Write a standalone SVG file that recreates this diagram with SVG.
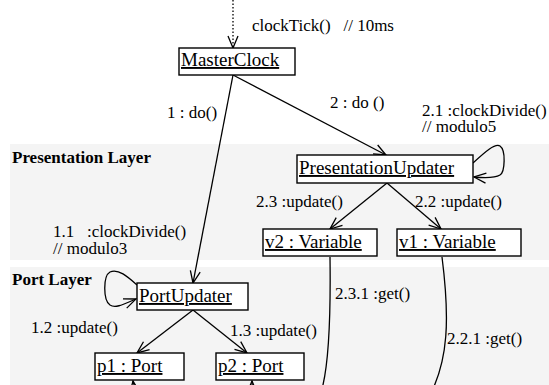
<svg xmlns="http://www.w3.org/2000/svg" width="549" height="385" viewBox="0 0 549 385" font-family="'Liberation Serif', 'DejaVu Serif', 'Times New Roman', serif">
<style>
text{font-family:"Liberation Serif","DejaVu Serif","Times New Roman",serif;fill:#000}
.lbl{font-size:17px;white-space:pre}
.layer{font-size:17px;font-weight:bold}
.name{font-size:19px;text-decoration:underline}
.box{fill:#fff;stroke:#000;stroke-width:1.4}
.band{fill:#f4f4f4}
.edge{fill:none;stroke:#000;stroke-width:1.3}
</style>
<defs>
<marker id="open" viewBox="0 0 14 12" refX="13" refY="6" markerWidth="14" markerHeight="12" markerUnits="userSpaceOnUse" orient="auto">
<path d="M1,1 L13,6 L1,11" fill="none" stroke="#000" stroke-width="1.3"/>
</marker>
</defs>
<g id="layers">
<rect class="band" x="10" y="144" width="539" height="116"/>
<rect class="band" x="10" y="267" width="539" height="118"/>
<text class="layer" x="12" y="163">Presentation Layer</text>
<text class="layer" x="12" y="285">Port Layer</text>
</g>
<g id="connectors">
<line class="edge" x1="233" y1="0" x2="233" y2="48" stroke-dasharray="1.5,2" marker-end="url(#open)"/>
<line class="edge" x1="233" y1="75" x2="193" y2="283" marker-end="url(#open)"/>
<line class="edge" x1="233" y1="75" x2="386" y2="155" marker-end="url(#open)"/>
<line class="edge" x1="387" y1="183" x2="330" y2="229" marker-end="url(#open)"/>
<line class="edge" x1="387" y1="183" x2="441" y2="229" marker-end="url(#open)"/>
<line class="edge" x1="193" y1="310" x2="137" y2="353" marker-end="url(#open)"/>
<line class="edge" x1="193" y1="310" x2="247" y2="353" marker-end="url(#open)"/>
<path class="edge" d="M473,163 C485,152 495,143 500,146 C506,150 505,172 500,175 C495,178 485,178 474,177" marker-end="url(#open)"/>
<path class="edge" d="M137,285 C128,277 118,268 110,272 C103,276 103,300 110,305 C116,309 126,303 136,299" marker-end="url(#open)"/>
<path class="edge" d="M330,257 C331,330 328,380 318,400 C300,430 252,420 252,381" marker-end="url(#open)"/>
<path class="edge" d="M442,257 C450,320 448,360 430,395 C410,430 140,430 133,381" marker-end="url(#open)"/>
<text class="lbl" x="252" y="31">clockTick()   // 10ms</text>
<text class="lbl" x="167" y="118">1 : do()</text>
<text class="lbl" x="330" y="108">2 : do ()</text>
<text class="lbl" x="422" y="116">2.1 :clockDivide()</text>
<text class="lbl" x="422" y="132">// modulo5</text>
<text class="lbl" x="256" y="207">2.3 :update()</text>
<text class="lbl" x="415" y="207">2.2 :update()</text>
<text class="lbl" x="53" y="237">1.1   :clockDivide()</text>
<text class="lbl" x="53" y="254">// modulo3</text>
<text class="lbl" x="335" y="299">2.3.1 :get()</text>
<text class="lbl" x="31" y="333">1.2 :update()</text>
<text class="lbl" x="230" y="336">1.3 :update()</text>
<text class="lbl" x="447" y="344">2.2.1 :get()</text>
</g>
<g id="MasterClock">
<rect class="box" x="179" y="48" width="116" height="27"/>
<text class="name" x="181" y="66">MasterClock</text>
</g>
<g id="PresentationUpdater">
<rect class="box" x="297" y="155" width="176" height="28"/>
<text class="name" x="299" y="174">PresentationUpdater</text>
</g>
<g id="v2">
<rect class="box" x="263" y="229" width="114" height="27"/>
<text class="name" x="265" y="248">v2 : Variable</text>
</g>
<g id="v1">
<rect class="box" x="397" y="229" width="124" height="27"/>
<text class="name" x="399" y="248">v1 : Variable</text>
</g>
<g id="PortUpdater">
<rect class="box" x="137" y="283" width="111" height="27"/>
<text class="name" x="139" y="302">PortUpdater</text>
</g>
<g id="p1">
<rect class="box" x="95" y="353" width="89" height="27"/>
<text class="name" x="97" y="372">p1 : Port</text>
</g>
<g id="p2">
<rect class="box" x="216" y="353" width="88" height="27"/>
<text class="name" x="218" y="372">p2 : Port</text>
</g>
</svg>
